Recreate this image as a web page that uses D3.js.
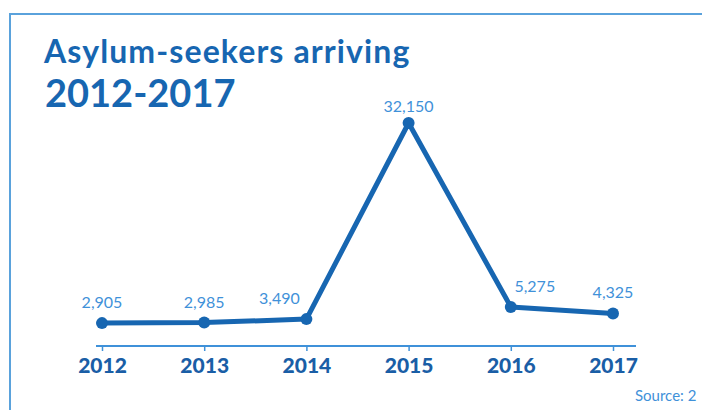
<!DOCTYPE html>
<html><head><meta charset="utf-8">
<script src="https://cdn.jsdelivr.net/npm/d3@7"></script>
<style>body{margin:0;background:#fff;}svg{display:block;}</style>
</head><body>
<svg id="c" width="702" height="410"></svg>
<script>
const years = ["2012","2013","2014","2015","2016","2017"];
const arrivals = [2905, 2985, 3490, 32150, 5275, 4325];
const valueLabels = ["2,905","2,985","3,490","32,150","5,275","4,325"];

const svg = d3.select("#c");
const dark = "#1766b1", light = "#3f91d9", frame = "#5aa2dc", tickCol = "#1a5ea6";

svg.append("path").attr("d","M10,410V14H702").attr("fill","none").attr("stroke",frame).attr("stroke-width",2);

svg.append("text").attr("x",44).attr("y",63).attr("fill",dark)
  .style("font-family","Lato").style("font-weight","700").style("font-size","32px")
  .attr("letter-spacing","1.1").text("Asylum-seekers arriving");
svg.append("text").attr("x",45).attr("y",107).attr("fill",dark)
  .style("font-family","Lato").style("font-weight","700").style("font-size","38px")
  .text("2012-2017");

const x = d3.scalePoint().domain(years).range([102,613]);
const y = d3.scaleLinear().domain([0,32150]).range([343,123]);

const axisY = 346;
const axis = d3.axisBottom(x).tickSize(5).tickSizeOuter(0);
const g = svg.append("g").attr("transform",`translate(0,${axisY})`).call(axis);
g.select(".domain").attr("d",`M${x(years[0])-6},0H636`).attr("stroke",light).attr("stroke-width",2);
g.selectAll(".tick line").attr("stroke",light).attr("stroke-width",1.5);
g.selectAll(".tick text").attr("fill",tickCol).attr("dy",null).attr("y",27)
  .style("font-family","Lato").style("font-weight","900").style("font-size","21px");

const data = years.map((yr,i)=>({yr, v:arrivals[i], lab:valueLabels[i],
  prev: arrivals[i-1], next: arrivals[i+1]}));
svg.append("path").datum(data)
  .attr("d", d3.line().x(d=>x(d.yr)).y(d=>y(d.v)))
  .attr("fill","none").attr("stroke",dark).attr("stroke-width",5).attr("stroke-linejoin","round");
svg.selectAll("circle.pt").data(data).join("circle").attr("class","pt")
  .attr("cx",d=>x(d.yr)).attr("cy",d=>y(d.v)).attr("r",6).attr("fill",dark);

// place labels above points; nudge aside when next to the steep peak
function dxOf(d){
  if (d.next !== undefined && d.next > 3*d.v) return -27;
  if (d.prev !== undefined && d.prev > 3*d.v) return 24;
  return 0;
}
function dyOf(d){
  const isPeak = (d.prev===undefined||d.prev<d.v)&&(d.next===undefined||d.next<d.v);
  return isPeak ? -11 : -15;
}
svg.selectAll("text.vl").data(data).join("text").attr("class","vl")
  .attr("x",d=>x(d.yr)+dxOf(d)).attr("y",d=>y(d.v)+dyOf(d)).attr("text-anchor","middle")
  .attr("fill",light).style("font-family","Lato").style("font-size","16px").text(d=>d.lab);

svg.append("text").attr("x",635).attr("y",401).attr("fill",light)
  .style("font-family","Lato").style("font-size","15px").text("Source: 2");
</script>
</body></html>
